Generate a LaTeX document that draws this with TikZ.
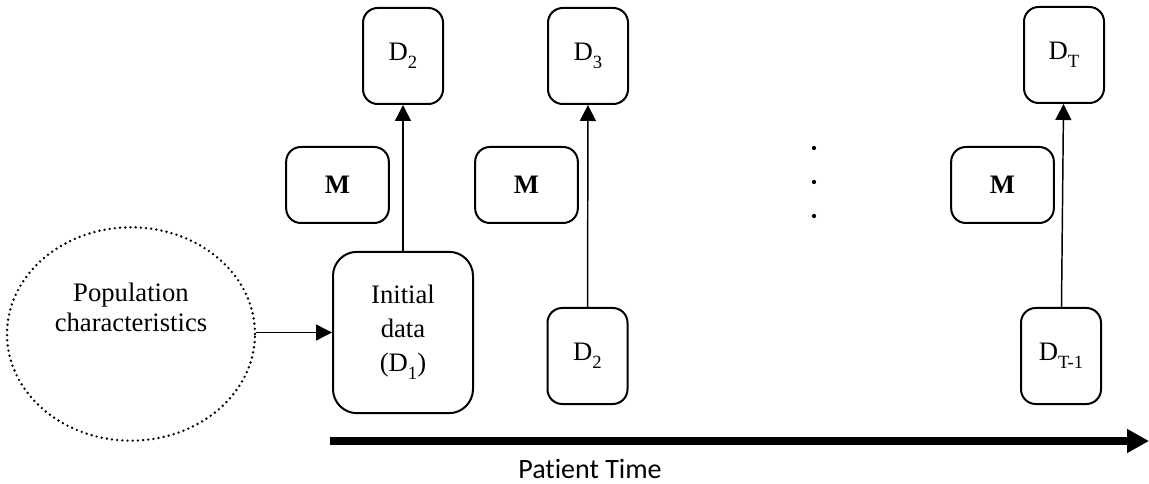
\documentclass[tikz,border=0pt]{standalone}
\usepackage{fontspec}
\setmainfont{Liberation Serif}
\newfontfamily\labelsans[Ligatures=NoCommon]{Carlito}
\usetikzlibrary{shapes.geometric,arrows.meta}

% lowered, smaller index as in D_2
\newcommand{\dsub}[1]{\raisebox{-0.3em}{\fontsize{14}{14}\selectfont #1}}

\tikzset{
  box/.style={draw, line width=1.5pt, rounded corners=11pt, align=center,
    font=\fontsize{20}{24}\selectfont, inner sep=0pt},
  databox/.style={box, minimum width=60pt, minimum height=72pt},
  modelbox/.style={box, minimum width=77pt, minimum height=57pt,
    font=\fontsize{20}{24}\selectfont\bfseries},
  flow/.style={line width=1.1pt, -{Triangle[length=12pt,width=12pt]}},
  dotline/.style={line width=2pt, dash pattern=on 0pt off 3.9pt, line cap=round},
}

\begin{document}
\begin{tikzpicture}[x=0.75pt, y=-0.75pt]
  \useasboundingbox (0,0) rectangle (1149,484);

  % input population
  \node[ellipse, dotline, draw, minimum width=186pt, minimum height=160pt, inner sep=0pt]
    (pop) at (131,334) {};
  \node[align=center, font=\fontsize{20}{22.5}\selectfont] (poptext) at (131,307)
    {Population\\characteristics};

  % first step
  \node[box, rounded corners=18pt, minimum width=105pt, minimum height=121pt,
        font=\fontsize{20}{25.5}\selectfont] (init) at (403,332.5)
    {Initial\\data\\(D\dsub{1})};
  \node[databox] (d2top) at (403,56) {D\dsub{2}};
  \node[modelbox] (m1) at (337.5,185) {M};

  % second step
  \node[databox] (d2bot) at (587.5,356) {D\dsub{2}};
  \node[databox] (d3top) at (588,56) {D\dsub{3}};
  \node[modelbox] (m2) at (526.5,185) {M};

  % ellipsis between steps
  \foreach \yy [count=\i] in {148,182,216}
    \fill (814,\yy) circle (1.6pt) coordinate (dot\i);

  % last step
  \node[databox] (dtm1) at (1061,356) {D\dsub{T-1}};
  \node[databox] (dt) at (1064,55) {D\dsub{T}};
  \node[modelbox] (m3) at (1002.5,185) {M};

  % connectors
  \draw[flow] (pop.east |- init.west) -- (init.west);
  \draw[flow] (init) -- (d2top);
  \draw[flow] (d2bot) -- (d3top);
  \draw[flow] (dtm1) -- (dt);

  % time axis
  \coordinate (tstart) at (330,441);
  \coordinate (tend) at (1149,441);
  \draw[line width=6pt, -{Triangle[length=16.5pt,width=17pt]}] (tstart) -- (tend);
  \node[font=\labelsans\fontsize{21}{25}\selectfont] (tlabel) at (590,469) {Patient Time};
\end{tikzpicture}
\end{document}
